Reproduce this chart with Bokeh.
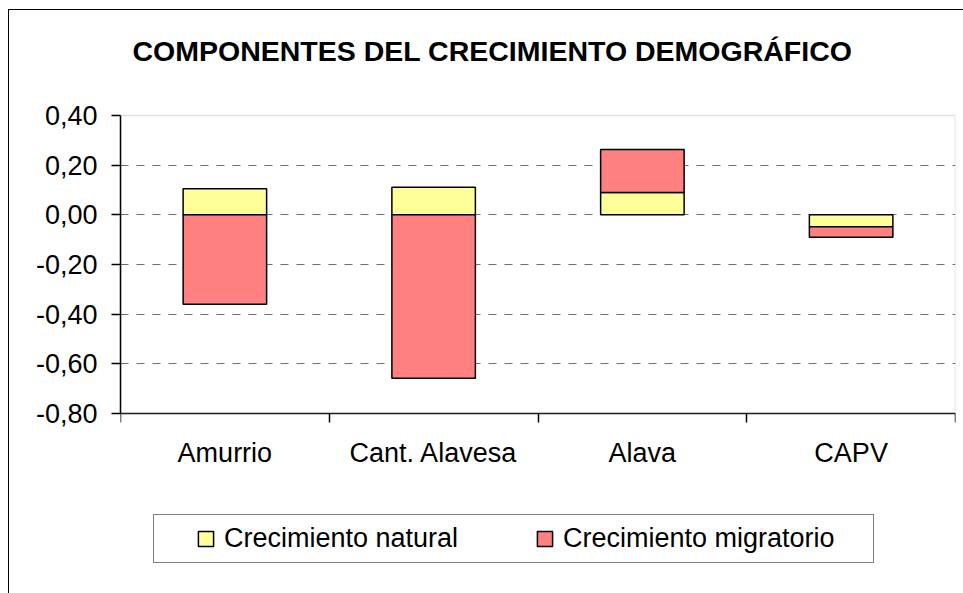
import numpy as np
from bokeh.plotting import figure
from bokeh.models import (Range1d, FixedTicker, ColumnDataSource, Legend, LegendItem,
                          BoxAnnotation, Label)
from bokeh.embed import file_html
from bokeh.resources import INLINE

# ---------------- data ----------------
title_text = "COMPONENTES DEL CRECIMIENTO DEMOGRÁFICO"
categories = ["Amurrio", "Cant. Alavesa", "Alava", "CAPV"]
crecimiento_natural = [0.105, 0.111, 0.09, -0.048]
crecimiento_migratorio = [-0.36, -0.658, 0.173, -0.042]
series_names = ["Crecimiento natural", "Crecimiento migratorio"]
y_ticks = [-0.8, -0.6, -0.4, -0.2, 0.0, 0.2, 0.4]
y_tick_labels = ["-0,80", "-0,60", "-0,40", "-0,20", "0,00", "0,20", "0,40"]

FONT = "Liberation Sans"
YELLOW = "#FFFF99"
RED = "#FF8080"

# layout (pixels)
PLOT_W, PLOT_H = 835, 298        # plot area
ABOVE_H = 105                    # space above the plot area (title)
BELOW_H = 180                    # space under the plot area (category labels + legend)
TITLE_LEFT = 12                  # title start, from the plot area's left edge
TITLE_MID = 65                   # title centre, above the plot area's top edge

nat = np.array(crecimiento_natural)
mig = np.array(crecimiento_migratorio)
xpos = np.arange(len(categories)) + 0.5
# Excel-style stacking: positives stack on positives, negatives on negatives
mig_bottom = np.where(np.sign(mig) == np.sign(nat), nat, 0.0)

src = ColumnDataSource(dict(
    x=xpos,
    nat_bottom=np.zeros_like(nat),
    nat_top=nat,
    mig_bottom=mig_bottom,
    mig_top=mig_bottom + mig,
))

y_lo, y_hi = y_ticks[0], y_ticks[-1]
upp = (y_hi - y_lo) / PLOT_H                     # data units per pixel
y_start = y_lo - BELOW_H * upp
y_end = y_hi + ABOVE_H * upp
n = len(categories)

p = figure(frame_width=PLOT_W, frame_height=ABOVE_H + PLOT_H + BELOW_H,
           x_range=Range1d(0, n), y_range=Range1d(y_start, y_end),
           output_backend="svg", toolbar_location=None,
           min_border_left=111, min_border_top=0, min_border_right=8, min_border_bottom=0)
p.styles = {"margin-left": "8px", "margin-top": "9px",
            "border-left": "1px solid black", "border-top": "1px solid black"}
p.background_fill_color = "white"
p.border_fill_color = "white"
p.outline_line_color = None

# plot-area border (grey)
p.add_layout(BoxAnnotation(left=0, right=n, bottom=y_lo, top=y_hi,
                           fill_color=None, line_color="#999999", line_width=1.5,
                           level="underlay"))

# title
p.add_layout(Label(x=TITLE_LEFT * n / PLOT_W, y=y_hi + TITLE_MID * upp, text=title_text,
                   text_align="left", text_baseline="middle",
                   text_font=FONT, text_font_size="28.5px", text_font_style="bold",
                   text_color="black"))

# bars
r_nat = p.vbar(x="x", width=0.4, bottom="nat_bottom", top="nat_top", source=src,
               fill_color=YELLOW, line_color="black", line_width=1.5)
r_mig = p.vbar(x="x", width=0.4, bottom="mig_bottom", top="mig_top", source=src,
               fill_color=RED, line_color="black", line_width=1.5)

# x axis (fixed at the bottom of the plot area)
xa = p.xaxis[0]
xa.fixed_location = y_lo
xa.ticker = FixedTicker(ticks=list(xpos), minor_ticks=list(range(n + 1)))
xa.major_label_overrides = {float(v): c for v, c in zip(xpos, categories)}
xa.major_tick_line_color = None
xa.major_tick_out = 9
xa.major_tick_in = 0
xa.minor_tick_line_color = "black"
xa.minor_tick_line_width = 1.5
xa.minor_tick_out = 9
xa.minor_tick_in = 0
xa.axis_line_color = "#222222"
xa.axis_line_width = 1.5
xa.major_label_text_font = FONT
xa.major_label_text_font_size = "27px"
xa.major_label_text_color = "black"
xa.major_label_standoff = 15
p.xgrid.visible = False

# y axis
ya = p.yaxis[0]
ya.bounds = (y_lo, y_hi)
ya.ticker = FixedTicker(ticks=y_ticks)
ya.major_label_overrides = dict(zip(y_ticks, y_tick_labels))
ya.minor_tick_line_color = None
ya.major_tick_out = 9
ya.major_tick_in = 0
ya.major_tick_line_color = "black"
ya.major_tick_line_width = 1.5
ya.axis_line_color = "black"
ya.axis_line_width = 1.5
ya.major_label_text_font = FONT
ya.major_label_text_font_size = "27px"
ya.major_label_text_color = "black"
ya.major_label_standoff = 14
p.ygrid.ticker = FixedTicker(ticks=y_ticks[1:-1])
p.ygrid.grid_line_color = "#707070"
p.ygrid.grid_line_dash = "8 8"
p.ygrid.grid_line_width = 1

# legend (boxed, under the category labels)
legend = Legend(items=[LegendItem(label=series_names[0], renderers=[r_nat]),
                       LegendItem(label=series_names[1], renderers=[r_mig])],
                location=(33, 30), orientation="horizontal",
                title=" ", title_location="left", title_standoff=33,
                title_text_font_size="1px",
                padding=8, margin=0, spacing=9,
                glyph_width=19, glyph_height=19, label_standoff=9, label_width=302,
                label_text_font=FONT, label_text_font_size="27px", label_text_color="black",
                border_line_color="black", border_line_width=1,
                background_fill_color="white", background_fill_alpha=1.0)
p.add_layout(legend)

open("out.html", "w").write(file_html(p, INLINE))
